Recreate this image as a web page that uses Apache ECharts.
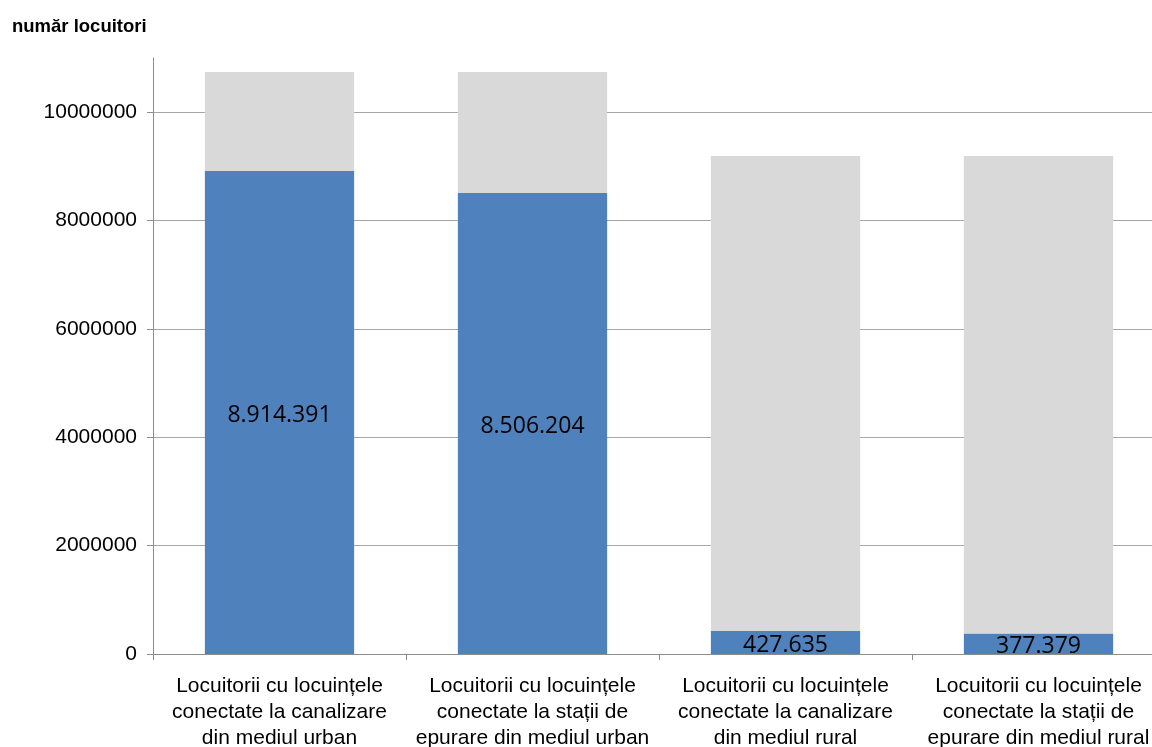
<!DOCTYPE html>
<html>
<head>
<meta charset="utf-8">
<script src="https://cdn.jsdelivr.net/npm/echarts@6/dist/echarts.min.js"></script>
<style>html,body{margin:0;padding:0;background:#fff}#c{width:1152px;height:747px}</style>
</head>
<body>
<div id="c"></div>
<script>
var categories = [
  "Locuitorii cu locuințele\nconectate la canalizare\ndin mediul urban",
  "Locuitorii cu locuințele\nconectate la stații de\nepurare din mediul urban",
  "Locuitorii cu locuințele\nconectate la canalizare\ndin mediul rural",
  "Locuitorii cu locuințele\nconectate la stații de\nepurare din mediul rural"
];
var connected = [8914391, 8506204, 427635, 377379];
var remainder = [1825000, 2234000, 8763000, 8813000];
var yTicks = [0, 2000000, 4000000, 6000000, 8000000, 10000000];
var yTitle = "număr locuitori";

function fmt(v) {
  return String(v).replace(/\B(?=(\d{3})+(?!\d))/g, ".");
}

var chart = echarts.init(document.getElementById('c'));
chart.setOption({
  animation: false,
  title: {
    text: yTitle, left: 7, top: 12,
    textStyle: { fontFamily: 'Liberation Sans', fontSize: 18.5, fontWeight: 'bold', color: '#000' }
  },
  grid: { left: 153, width: 1012, top: 58, height: 596, outerBoundsMode: 'none', containLabel: false },
  xAxis: {
    type: 'category',
    data: categories,
    axisLine: { lineStyle: { color: '#8c8c8c', width: 1 } },
    axisTick: { show: true, length: 6, lineStyle: { color: '#8c8c8c' } },
    axisLabel: {
      interval: 0, margin: 19, lineHeight: 26,
      fontFamily: 'Liberation Sans', fontSize: 21, color: '#000'
    }
  },
  yAxis: {
    type: 'value',
    min: 0, max: 11000000, interval: 2000000,
    axisLine: { show: true, lineStyle: { color: '#8c8c8c', width: 1 } },
    axisTick: { show: true, length: 6, customValues: yTicks, lineStyle: { color: '#8c8c8c' } },
    axisLabel: {
      customValues: yTicks, margin: 16,
      formatter: function (v) { return String(v); },
      fontFamily: 'Liberation Sans', fontSize: 21, color: '#000'
    },
    splitLine: { show: true, lineStyle: { color: ['#a6a6a6','#a6a6a6','#a6a6a6','#a6a6a6','#a6a6a6','#a6a6a6','rgba(0,0,0,0)'], width: 1 } }
  },
  series: [
    {
      type: 'bar', stack: 'total', data: connected,
      barCategoryGap: '41%',
      itemStyle: { color: '#4f81bd' },
      label: {
        show: true, position: 'inside', offset: [0, 3],
        formatter: function (p) { return fmt(p.value); },
        fontFamily: 'Open Sans', fontSize: 23, color: '#000'
      }
    },
    {
      type: 'bar', stack: 'total', data: remainder,
      barCategoryGap: '41%',
      itemStyle: { color: '#d9d9d9' }
    }
  ]
});
</script>
</body>
</html>
